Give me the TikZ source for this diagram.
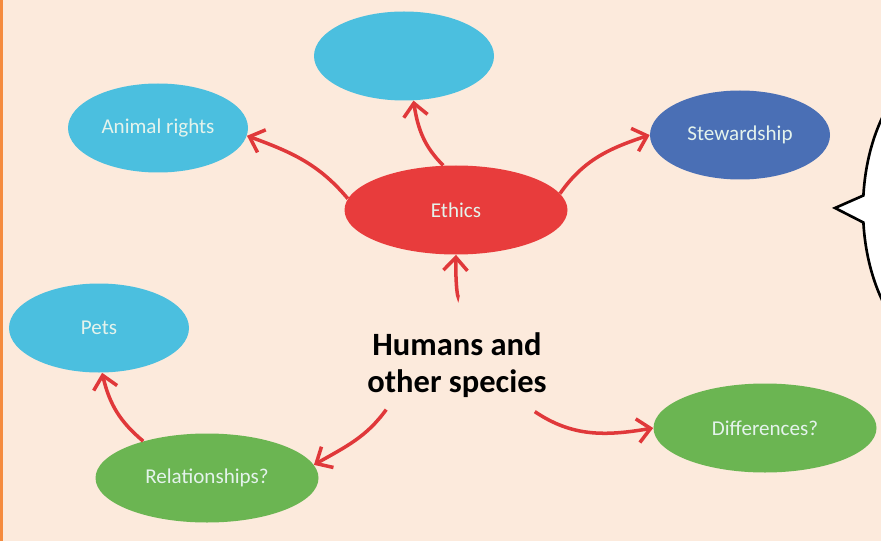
\documentclass[tikz,border=0pt]{standalone}
\usepackage{fontspec}
\setmainfont{Carlito}
\definecolor{peach}{HTML}{FCEADC}
\definecolor{rim}{HTML}{F58B3E}
\definecolor{sky}{HTML}{4BBFDF}
\definecolor{navy}{HTML}{4A6FB5}
\definecolor{tomato}{HTML}{E83C3C}
\definecolor{leaf}{HTML}{6BB552}
\definecolor{linkred}{HTML}{E0383A}
\definecolor{pale}{HTML}{E4F3EC}
\usepackage{tikz}
\usetikzlibrary{positioning, shapes.geometric, arrows.meta, bending}

\begin{document}
\begin{tikzpicture}[
  topic/.style={ellipse, draw=none, minimum width=3.6cm, minimum height=1.78cm,
                inner sep=0pt, text=pale, font=\fontsize{12}{14}\selectfont},
  wide/.style={topic, minimum width=4.46cm},
  link/.style={draw=linkred, line width=2pt,
               -{Straight Barb[length=2.6mm, width=4.8mm]}},
]
\useasboundingbox (0,0) rectangle (17.62,10.82);
\fill[peach] (0,0) rectangle (17.62,10.82);
\draw[rim, line width=0.12cm] (0,0) -- (0,10.82);

% speech bubble, cut off at the right edge
\begin{scope}
  \clip (0,0) rectangle (17.62,10.82);
  \draw[fill=white, line width=1.5pt, line join=miter]
    (19.26,6.64) ++(175:2cm and 3.1cm)
    arc[start angle=175, end angle=-175, x radius=2cm, y radius=3.1cm]
    -- (16.70,6.66) -- cycle;
\end{scope}

\node[topic, fill=sky] (animal) at (3.16,8.26) {Animal rights};
\node[topic, fill=sky] (blank) at (8.08,9.70) {};
\node[topic, fill=navy] (steward) at (14.80,8.12) {Stewardship};
\node[wide, fill=tomato] (ethics) at (9.12,6.62) {Ethics};
\node[topic, fill=sky] (pets) at (1.98,4.26) {Pets};
\node[wide, fill=leaf] (relations) at (4.14,1.26) {Relationships?};
\node[wide, fill=leaf] (diff) at (15.30,2.26) {Differences?};

\node[align=center, font=\fontsize{18.5}{21}\selectfont\bfseries] (hub) at (9.14,3.52)
  {Humans and\\other species};

\draw[link, shorten <=0.62cm] (hub.north) to[out=88, in=-92] (ethics.south);
\draw[link] (ethics.174) to[out=130, in=-20] (animal.-5);
\draw[link] (ethics.106) to[out=135, in=-82] (blank.-78);
\draw[link] (ethics.9) to[out=55, in=198] (steward.west);
\draw[link] ([xshift=0.5cm, yshift=-0.12cm]hub.south west) to[out=-126, in=30] (relations.7);
\draw[link] ([xshift=-0.36cm, yshift=-0.16cm]hub.south east) to[out=-34, in=190] (diff.west);
\draw[link] (relations.150) to[out=140, in=-78] (pets.-86);
\end{tikzpicture}
\end{document}
